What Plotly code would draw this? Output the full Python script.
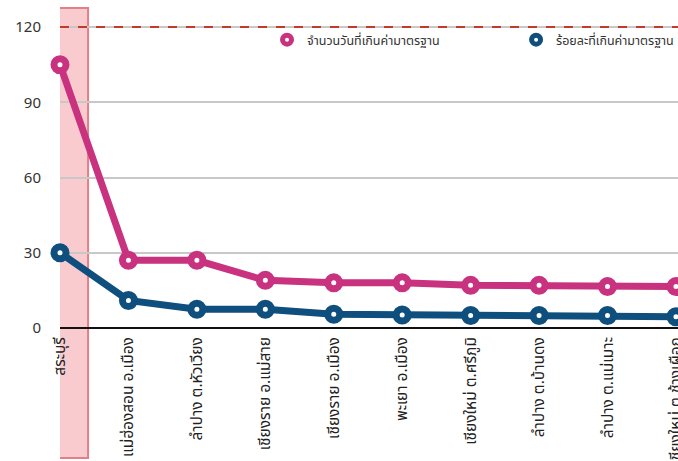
import plotly.graph_objects as go

categories = ["สระบุรี", "แม่ฮ่องสอน อ.เมือง", "ลำปาง ต.หัวเวียง", "เชียงราย อ.แม่สาย",
              "เชียงราย อ.เมือง", "พะเยา อ.เมือง", "เชียงใหม่ ต.ศรีภูมิ", "ลำปาง ต.บ้านดง",
              "ลำปาง ต.แม่เมาะ", "เชียงใหม่ ต.ช้างเผือก"]
days_over = [105, 27, 27, 19, 18, 18, 17, 17, 16.5, 16.5]
pct_over = [30, 11, 7.5, 7.5, 5.5, 5.2, 5, 5, 5, 4.5]
name_days = "จำนวนวันที่เกินค่ามาตรฐาน"
name_pct = "ร้อยละที่เกินค่ามาตรฐาน"
standard = 120
y_ticks = [0, 30, 60, 90, 120]

PINK = "#c8327f"
BLUE = "#0e4f7e"
FONT = "Tahoma, Noto Sans Thai, Noto Sans, sans-serif"

x_idx = list(range(len(categories)))

fig = go.Figure()
for vals, name, col, lg in [(days_over, name_days, PINK, "legend"), (pct_over, name_pct, BLUE, "legend2")]:
    fig.add_trace(go.Scatter(
        x=x_idx, y=vals, name=name, mode="lines+markers",
        line=dict(color=col, width=7),
        marker=dict(symbol="circle", size=12, color="white", line=dict(color=col, width=7)),
        cliponaxis=False, showlegend=False,
    ))
    # legend-only entry (marker without line)
    fig.add_trace(go.Scatter(
        x=[None], y=[None], name=name, mode="markers", legend=lg,
        marker=dict(symbol="circle", size=9, color="white", line=dict(color=col, width=5)),
    ))

# highlight band for first category
fig.add_shape(type="rect", xref="x", yref="paper", x0=-0.19, x1=0.41, y0=-0.406, y1=1.0,
              fillcolor="rgba(244,160,168,0.55)", line=dict(color="#e47f88", width=2), layer="below")
# standard line
fig.add_shape(type="line", xref="paper", yref="y", x0=0, x1=1, y0=standard, y1=standard,
              line=dict(color="#c0392b", width=2, dash="dash"))

legend_common = dict(orientation="h", yanchor="middle", xanchor="left", bgcolor="rgba(0,0,0,0)",
                     font=dict(size=12.5, color="#333333", family=FONT))

fig.update_layout(
    width=678, height=461,
    margin=dict(l=60, r=0, t=8, b=133, autoexpand=False),
    paper_bgcolor="white", plot_bgcolor="white",
    font=dict(family=FONT, color="#333333", size=13),
    legend=dict(x=0.335, y=0.9, **legend_common),
    legend2=dict(x=0.738, y=0.9, **legend_common),
    xaxis=dict(range=[0, 9.03], tickmode="array", tickvals=x_idx, ticktext=categories,
               tickangle=-90, showgrid=False, zeroline=False, showline=False,
               tickfont=dict(size=15.5, color="#222222"), ticks="", ticklen=0,
               ticklabelstandoff=5, ticklabeloverflow="allow", automargin=False),
    yaxis=dict(range=[0, 127.6], tickmode="array", tickvals=y_ticks,
               showgrid=True, gridcolor="#c8c8c8", gridwidth=1.5,
               zeroline=True, zerolinecolor="#111111", zerolinewidth=2,
               tickfont=dict(size=15, color="#333333"), ticklabelstandoff=18, automargin=False),
)

fig.write_html("out.html")
